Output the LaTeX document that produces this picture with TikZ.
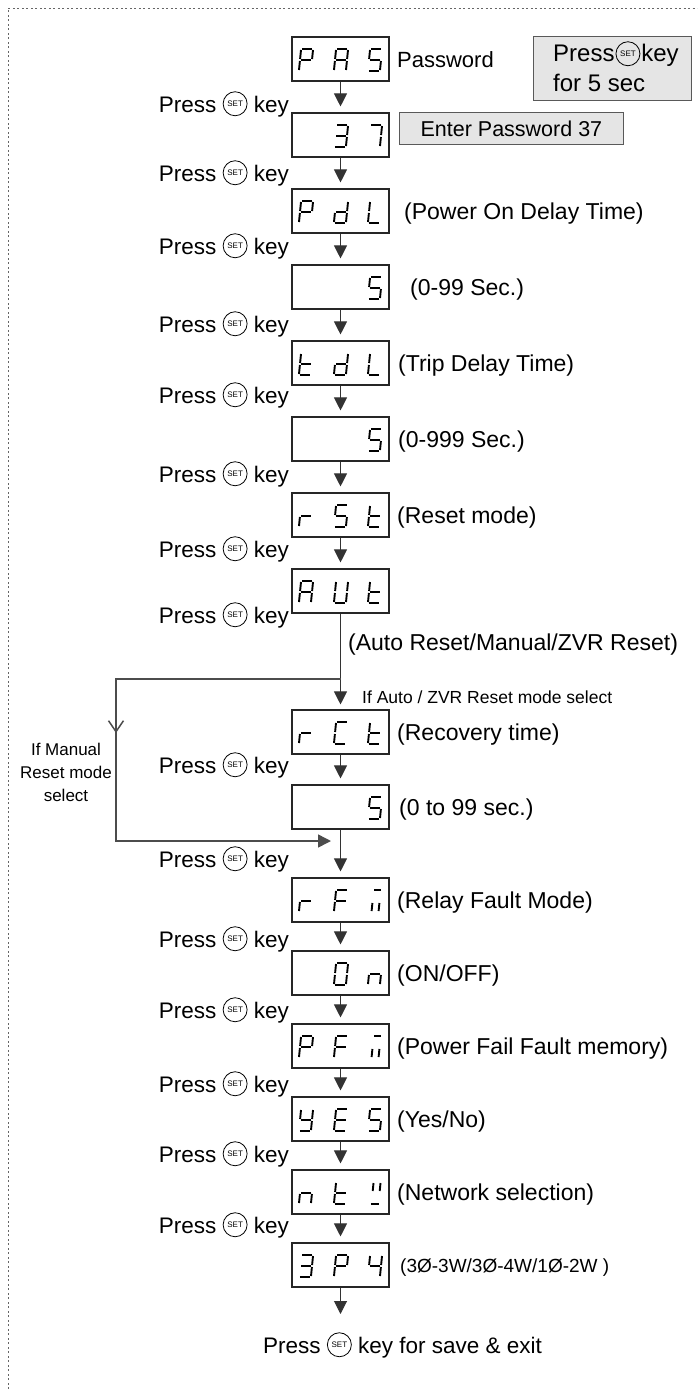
\documentclass[tikz,border=0pt]{standalone}
\usepackage{fontspec}
\setmainfont{Liberation Sans}
\usetikzlibrary{arrows.meta,shapes.geometric}

\tikzset{
 dispbox/.style={draw=black!85, line width=1.1pt, minimum width=97pt, minimum height=44pt, inner sep=0pt, fill=white},
 segline/.style={line width=1.9pt, line cap=butt, draw=black},
 flow/.style={draw=black!80, line width=1pt, -{Triangle[length=13pt,width=13pt]}, shorten >=6pt},
 branchln/.style={draw=black!70, line width=1.5pt},
 lbl/.style={font=\fontsize{23}{27}\selectfont, inner sep=0pt, anchor=base west},
 presslbl/.style={font=\fontsize{22.5}{27}\selectfont, inner sep=0pt, anchor=base east},
 setbtn/.style={circle, draw=black, line width=0.8pt, minimum size=24pt, inner sep=0pt, font=\fontsize{8}{8}\selectfont},
 greybox/.style={draw=black!65, fill=black!10, line width=0.8pt, inner sep=0pt},
 dotframe/.style={draw=black!60, line width=0.8pt, dash pattern=on 2pt off 2.5pt},
 smalltxt/.style={font=\fontsize{17}{20}\selectfont, inner sep=0pt},
}

\newcounter{btnc}
\newcommand\btn{\stepcounter{btnc}\tikz[baseline=-5.5pt]\node[setbtn] (btn\arabic{btnc}) {SET};}

% seven segment pieces (y grows downwards)
\def\zsga{(-3.9,-11) -- (6.1,-11)}
\def\zsgb{(7.0,-10) -- (6.1,-1)}
\def\zsgc{(5.9,1) -- (5.0,10)}
\def\zsgd{(-6.1,11) -- (3.9,11)}
\def\zsge{(-6.1,1) -- (-7.0,10)}
\def\zsgf{(-5.0,-10) -- (-5.9,-1)}
\def\zsgg{(-5,0) -- (5,0)}
\def\zsgma{(-0.9,-11) -- (6.1,-11)}
\def\zsgmb{(-2.6,2) -- (-3.4,10)}
\def\zsgmc{(4.4,2) -- (3.6,10)}
\def\zsgwa{(-1.5,-10) -- (-2.3,-2)}
\def\zsgwb{(5.5,-10) -- (4.7,-2)}
\def\zsgwc{(-4.1,11) -- (3.9,11)}
\newcommand\dg[3]{\begin{scope}[shift={(#1,#2)}]\foreach \q in {#3}{\draw[segline] \csname zsg\q\endcsname;}\end{scope}}

\begin{document}
\begin{tikzpicture}[x=1pt,y=-1pt]
\useasboundingbox (0,0) rectangle (697,1389);
\draw[dotframe] (8,1389) -- (8,8) -- (697,8);

% display boxes
\node[dispbox] (pas) at (340.5,59) {};
\node[dispbox] (b37) at (340.5,135) {};
\node[dispbox] (pdl) at (340.5,211) {};
\node[dispbox] (fivea) at (340.5,287) {};
\node[dispbox] (tdl) at (340.5,363) {};
\node[dispbox] (fiveb) at (340.5,439) {};
\node[dispbox] (rst) at (340.5,515) {};
\node[dispbox] (aut) at (340.5,591) {};
\node[dispbox] (rct) at (340.5,732) {};
\node[dispbox] (fivec) at (340.5,807) {};
\node[dispbox] (rfm) at (340.5,900) {};
\node[dispbox] (on) at (340.5,973) {};
\node[dispbox] (pfm) at (340.5,1046) {};
\node[dispbox] (yes) at (340.5,1119) {};
\node[dispbox] (ntu) at (340.5,1192) {};
\node[dispbox] (tpf) at (340.5,1265) {};

% glyphs
\dg{306}{60}{a,b,f,g,e}\dg{341}{60}{a,b,c,e,f,g}\dg{375}{60}{a,f,g,c,d}
\dg{341}{136}{a,b,g,c,d}\dg{375}{136}{a,b,c}
\dg{306}{212}{a,b,f,g,e}\dg{341}{212}{b,c,d,e,g}\dg{375}{212}{f,e,d}
\dg{375}{288}{a,f,g,c,d}
\dg{306}{364}{f,e,g,d}\dg{341}{364}{b,c,d,e,g}\dg{375}{364}{f,e,d}
\dg{375}{440}{a,f,g,c,d}
\dg{306}{516}{e,g}\dg{341}{516}{a,f,g,c,d}\dg{375}{516}{f,e,g,d}
\dg{306}{592}{a,b,c,e,f,g}\dg{341}{592}{b,c,d,e,f}\dg{375}{592}{f,e,g,d}
\dg{306}{733}{e,g}\dg{341}{733}{a,f,e,d}\dg{375}{733}{f,e,g,d}
\dg{375}{808}{a,f,g,c,d}
\dg{306}{901}{e,g}\dg{341}{901}{a,f,g,e}\dg{375}{901}{ma,mb,mc}
\dg{341}{974}{a,b,c,d,e,f}\dg{375}{974}{e,g,c}
\dg{306}{1047}{a,b,f,g,e}\dg{341}{1047}{a,f,g,e}\dg{375}{1047}{ma,mb,mc}
\dg{306}{1120}{f,b,g,c,d}\dg{341}{1120}{a,f,g,e,d}\dg{375}{1120}{a,f,g,c,d}
\dg{306}{1193}{e,g,c}\dg{341}{1193}{f,e,g,d}\dg{375}{1193}{wa,wb,wc}
\dg{306}{1266}{a,b,g,c,d}\dg{341}{1266}{a,b,f,g,e}\dg{375}{1266}{f,g,b,c}

% main arrows
\draw[flow] (pas) -- (b37);
\draw[flow] (b37) -- (pdl);
\draw[flow] (pdl) -- (fivea);
\draw[flow] (fivea) -- (tdl);
\draw[flow] (tdl) -- (fiveb);
\draw[flow] (fiveb) -- (rst);
\draw[flow] (rst) -- (aut);
\draw[flow, shorten >=5pt] (aut) -- (rct);
\draw[flow] (rct) -- (fivec);
\draw[flow] (fivec) -- (rfm);
\draw[flow] (rfm) -- (on);
\draw[flow] (on) -- (pfm);
\draw[flow] (pfm) -- (yes);
\draw[flow] (yes) -- (ntu);
\draw[flow] (ntu) -- (tpf);
\coordinate (endpt) at (340.5,1314);
\draw[flow, shorten >=0pt] (tpf) -- (endpt);

% manual branch
\coordinate (jn) at (340.5,679);
\coordinate (bl) at (116,679);
\coordinate (bv) at (116,733);
\coordinate (bb) at (116,841);
\coordinate (mt) at (331,841);
\draw[branchln, -{Triangle[length=13pt,width=13pt]}] (jn) -- (bl) -- (bb) -- (mt);
\draw[branchln, -{Straight Barb[length=11pt,width=15pt]}] (bl) -- (bv);

% press labels
\node[presslbl] (pk1) at (289,112) {Press \btn\ key};
\node[presslbl] (pk2) at (289,181) {Press \btn\ key};
\node[presslbl] (pk3) at (289,254) {Press \btn\ key};
\node[presslbl] (pk4) at (289,332) {Press \btn\ key};
\node[presslbl] (pk5) at (289,403) {Press \btn\ key};
\node[presslbl] (pk6) at (289,482) {Press \btn\ key};
\node[presslbl] (pk7) at (289,557) {Press \btn\ key};
\node[presslbl] (pk8) at (289,623) {Press \btn\ key};
\node[presslbl] (pk9) at (289,773) {Press \btn\ key};
\node[presslbl] (pk10) at (289,867) {Press \btn\ key};
\node[presslbl] (pk11) at (289,947) {Press \btn\ key};
\node[presslbl] (pk12) at (289,1018) {Press \btn\ key};
\node[presslbl] (pk13) at (289,1092) {Press \btn\ key};
\node[presslbl] (pk14) at (289,1162) {Press \btn\ key};
\node[presslbl] (pk15) at (289,1233) {Press \btn\ key};

% right labels
\node[lbl, font=\fontsize{22}{26}\selectfont] (tpas) at (397,67) {Password};
\node[lbl] (tpdl) at (404,219) {(Power On Delay Time)};
\node[lbl] (tfa) at (410,295) {(0-99 Sec.)};
\node[lbl] (ttdl) at (398,371) {(Trip Delay Time)};
\node[lbl] (tfb) at (398,447) {(0-999 Sec.)};
\node[lbl] (trst) at (397,523) {(Reset mode)};
\node[lbl] (taut) at (348,650) {(Auto Reset/Manual/ZVR Reset)};
\node[smalltxt, font=\fontsize{17.5}{20}\selectfont, anchor=base west] (tauto) at (362,703) {If Auto / ZVR Reset mode select};
\node[lbl] (trct) at (397,740) {(Recovery time)};
\node[lbl] (tfc) at (399,815) {(0 to 99 sec.)};
\node[lbl] (trfm) at (397,908) {(Relay Fault Mode)};
\node[lbl] (ton) at (397,981) {(ON/OFF)};
\node[lbl] (tpfm) at (397,1054) {(Power Fail Fault memory)};
\node[lbl] (tyes) at (397,1127) {(Yes/No)};
\node[lbl] (tntu) at (397,1200) {(Network selection)};
\node[lbl, font=\fontsize{19}{22}\selectfont] (ttpf) at (400,1272) {(3Ø-3W/3Ø-4W/1Ø-2W )};

\node[smalltxt, anchor=base] (man1) at (66,755) {If Manual};
\node[smalltxt, anchor=base] (man2) at (66,778) {Reset mode};
\node[smalltxt, anchor=base] (man3) at (66,801) {select};

% grey boxes
\node[greybox, anchor=north west, minimum width=224pt, minimum height=32pt, font=\fontsize{21.5}{24}\selectfont] (enter) at (399,112) {Enter Password 37};
\node[greybox, anchor=north west, minimum width=158pt, minimum height=64pt] (keybox) at (533,36) {};
\node[lbl, font=\fontsize{24}{28}\selectfont] (kb1) at (553,62) {Press\hspace{1pt}\btn\hspace{1pt}key};
\node[lbl, font=\fontsize{24}{28}\selectfont] (kb2) at (553,91) {for 5 sec};

% final
\node[lbl, font=\fontsize{22.5}{27}\selectfont] (save) at (263,1353) {Press \btn\ key for save \& exit};
\end{tikzpicture}
\end{document}
